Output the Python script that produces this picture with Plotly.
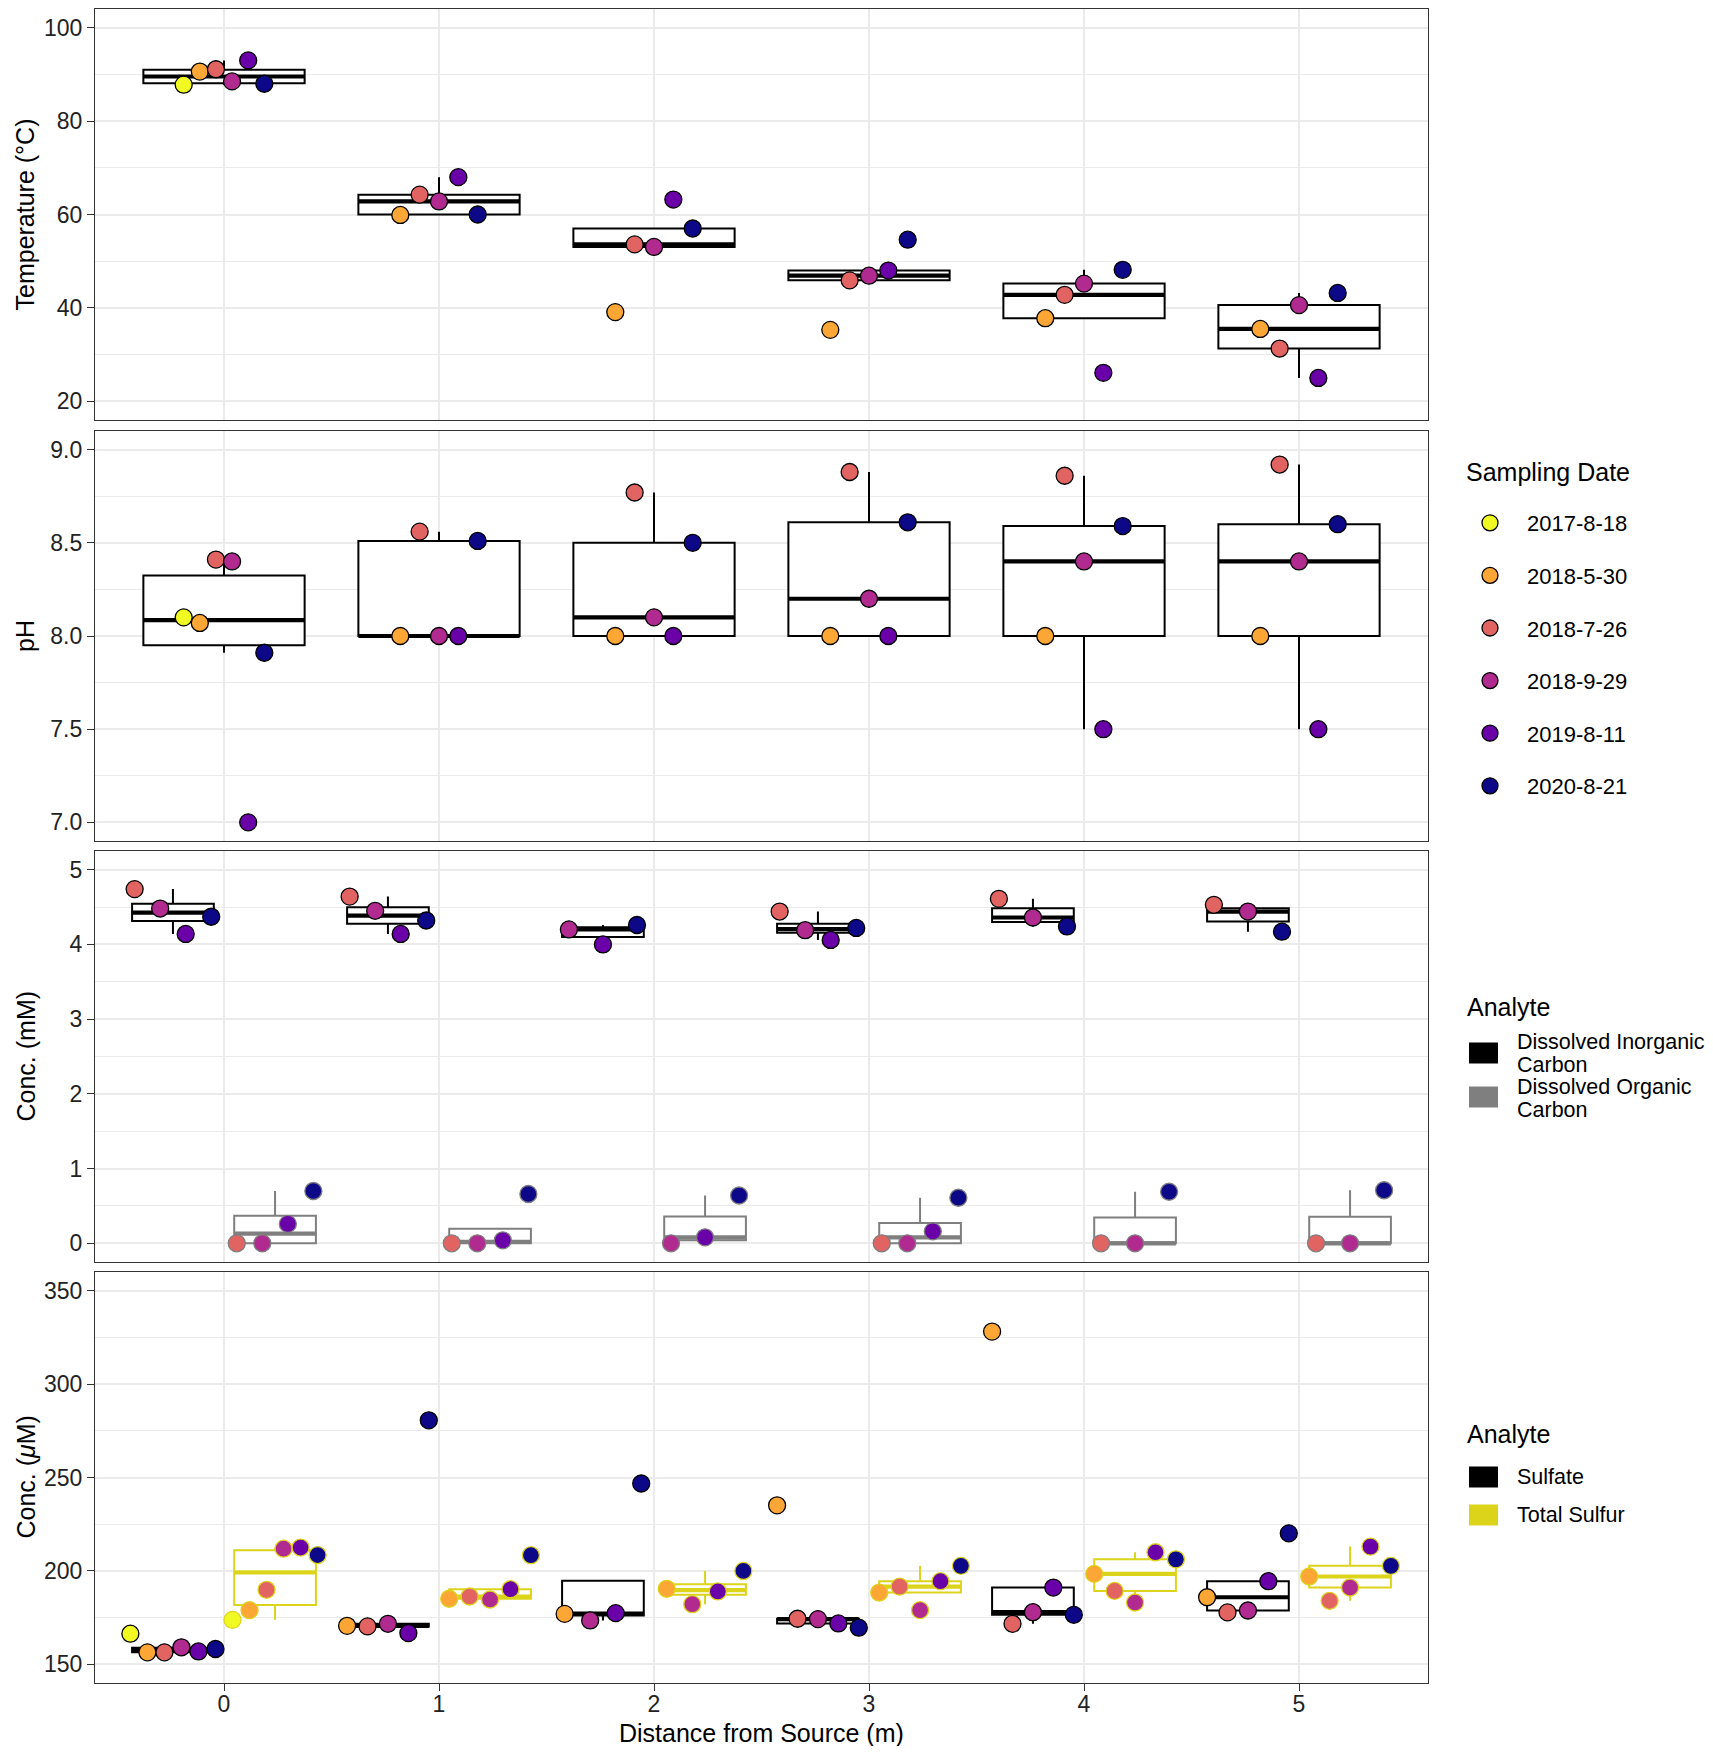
import numpy as np
import plotly.graph_objects as go
from plotly.subplots import make_subplots

DISTANCES = [0, 1, 2, 3, 4, 5]
DATES = ["2017-8-18", "2018-5-30", "2018-7-26", "2018-9-29", "2019-8-11", "2020-8-21"]
DATE_COLORS = ["#F0F921", "#FCA636", "#E16462", "#B12A90", "#6A00A8", "#0D0887"]

# one row per sampling date (order of DATES), one column per distance; None = not sampled
TEMP = [
    [87.8, None, None, None, None, None],
    [90.6, 59.9, 39.1, 35.3, 37.8, 35.5],
    [91.1, 64.25, 53.6, 45.9, 42.8, 31.3],
    [88.5, 62.8, 53.06, 46.9, 45.2, 40.6],
    [93.0, 68.0, 63.2, 48.0, 26.1, 25.0],
    [88.0, 60.0, 57.0, 54.6, 48.15, 43.2],
]
PH = [
    [8.10, None, None, None, None, None],
    [8.07, 8.00, 8.00, 8.00, 8.00, 8.00],
    [8.41, 8.56, 8.77, 8.88, 8.86, 8.92],
    [8.40, 8.00, 8.10, 8.20, 8.40, 8.40],
    [7.00, 8.00, 8.00, 8.00, 7.50, 7.50],
    [7.91, 8.51, 8.50, 8.61, 8.59, 8.60],
]
DIC = [
    [None, None, None, None, None, None],
    [None, None, None, None, None, None],
    [4.74, 4.64, None, 4.44, 4.61, 4.53],
    [4.48, 4.45, 4.20, 4.19, 4.36, 4.44],
    [4.14, 4.14, 4.00, 4.06, None, None],
    [4.37, 4.32, 4.26, 4.22, 4.24, 4.17],
]
DOC = [
    [None, None, None, None, None, None],
    [None, None, None, None, None, None],
    [0.0, 0.0, None, 0.0, 0.0, 0.0],
    [0.0, 0.0, 0.0, 0.0, 0.0, 0.0],
    [0.26, 0.04, 0.08, 0.16, None, None],
    [0.70, 0.66, 0.64, 0.61, 0.69, 0.71],
]
SULFATE = [
    [166.4, None, None, None, None, None],
    [156.4, 170.6, 177.0, 235.1, 328.1, 185.9],
    [156.4, 170.3, None, 174.4, 171.7, 177.8],
    [159.1, 171.7, 173.5, 174.2, 177.9, 178.8],
    [156.9, 166.7, 177.4, 171.9, 191.1, 194.5],
    [158.2, 280.6, 246.8, 169.6, 176.5, 220.1],
]
TOTAL_S = [
    [173.8, None, None, None, None, None],
    [179.0, 185.1, 190.4, 188.4, 198.4, 197.0],
    [189.9, 186.3, None, 191.6, 189.3, 184.0],
    [211.9, 184.7, 182.2, 179.0, 183.1, 191.1],
    [212.5, 190.2, 189.0, 194.5, 210.0, 213.0],
    [208.5, 208.4, 200.0, 202.7, 206.2, 202.7],
]

# the page body adds an 8px margin, so the figure is a bit smaller than the window
OFF = 8
W, H = 1713 - 2 * OFF, 1754 - 2 * OFF
FONT = "Liberation Sans, Arial, sans-serif"
GRID = "#EBEBEB"
BORDER = "#333333"
GREY = "#7F7F7F"
SULFUR = "#DCD41A"
PANELS = [(9, 420), (431, 841), (851, 1262), (1272, 1683)]  # top/bottom, screen px
LEFT, RIGHT = 95, 1428


def px_x(x):
    return (x - OFF) / W


def px_y(y):
    return 1 - (y - OFF) / H


def box_stats(vals):
    v = np.array([x for x in vals if x is not None])
    q1, med, q3 = np.percentile(v, [25, 50, 75])
    iqr = q3 - q1
    lo = v[v >= q1 - 1.5 * iqr].min()
    hi = v[v <= q3 + 1.5 * iqr].max()
    return q1, med, q3, lo, hi


fig = make_subplots(rows=4, cols=1, shared_xaxes=True, vertical_spacing=0.01)


def add_box(row, centers, rows, width, color):
    stats = [box_stats([r[j] for r in rows]) for j in range(len(DISTANCES))]
    fig.add_trace(go.Box(
        x=centers, q1=[s[0] for s in stats], median=[s[1] for s in stats],
        q3=[s[2] for s in stats], lowerfence=[s[3] for s in stats],
        upperfence=[s[4] for s in stats], orientation="v", width=width,
        fillcolor="white", line=dict(color=color, width=2), whiskerwidth=0,
        boxpoints=False, showlegend=False, hoverinfo="skip"), row=row, col=1)
    # ggplot draws the median twice as thick as the box
    mx, my = [], []
    for c, s in zip(centers, stats):
        mx += [c - width / 2, c + width / 2, None]
        my += [s[1], s[1], None]
    fig.add_trace(go.Scatter(x=mx, y=my, mode="lines", line=dict(color=color, width=4.2),
                             showlegend=False, hoverinfo="skip"), row=row, col=1)


def add_points(row, series, dodge_width, first):
    # series: list of (rows, outline colour); dodge over every present group at a distance
    for a, (rows, outline) in enumerate(series):
        for k, date in enumerate(DATES):
            xs, ys = [], []
            for j, d in enumerate(DISTANCES):
                if rows[k][j] is None:
                    continue
                present = [(aa, i) for aa in range(len(series)) for i in range(len(DATES))
                           if series[aa][0][i][j] is not None]
                n = len(present)
                idx = present.index((a, k))
                xs.append(d + (idx - (n - 1) / 2) * dodge_width / n)
                ys.append(rows[k][j])
            if not xs:
                continue
            fig.add_trace(go.Scatter(
                x=xs, y=ys, mode="markers", name=date, legendgroup=date,
                showlegend=first and a == 0,
                marker=dict(size=17, color=DATE_COLORS[k],
                            line=dict(color=outline, width=1.3))), row=row, col=1)


# panel 1 and 2: one box per distance
add_box(1, DISTANCES, TEMP, 0.75, "black")
add_points(1, [(TEMP, "black")], 0.45, True)
add_box(2, DISTANCES, PH, 0.75, "black")
add_points(2, [(PH, "black")], 0.45, False)

# panel 3 and 4: two analytes dodged side by side
half = 0.95 / 4
add_box(3, [d - half for d in DISTANCES], DIC, 0.38, "black")
add_box(3, [d + half for d in DISTANCES], DOC, 0.38, GREY)
add_points(3, [(DIC, "black"), (DOC, GREY)], 0.95, False)
add_box(4, [d - half for d in DISTANCES], SULFATE, 0.38, "black")
add_box(4, [d + half for d in DISTANCES], TOTAL_S, 0.38, SULFUR)
add_points(4, [(SULFATE, "black"), (TOTAL_S, SULFUR)], 0.95, False)

y_specs = [
    dict(range=[16, 104], dtick=20, minor=10, fmt=""),
    dict(range=[6.9, 9.1], dtick=0.5, minor=0.25, fmt=".1f"),
    dict(range=[-0.25, 5.25], dtick=1, minor=0.5, fmt=""),
    dict(range=[140, 360], dtick=50, minor=25, fmt=""),
]
for i, ((top, bot), spec) in enumerate(zip(PANELS, y_specs)):
    sfx = "" if i == 0 else str(i + 1)
    last = i == 3
    fig.update_layout({
        "xaxis" + sfx: dict(
            domain=[px_x(LEFT), px_x(RIGHT)], range=[-0.6, 5.6], tickvals=DISTANCES,
            showgrid=True, gridcolor=GRID, gridwidth=2, zeroline=False,
            showline=True, mirror=True, linecolor=BORDER, linewidth=1.3,
            ticks="outside" if last else "", ticklen=7, tickwidth=1.3, tickcolor=BORDER,
            showticklabels=last, ticklabelstandoff=-7,
            tickfont=dict(size=23, color="#222")),
        "yaxis" + sfx: dict(
            domain=[px_y(bot), px_y(top)], range=spec["range"], tick0=0, dtick=spec["dtick"],
            tickformat=spec["fmt"], showgrid=True, gridcolor=GRID, gridwidth=2,
            zeroline=False, showline=True, mirror=True, linecolor=BORDER, linewidth=1.3,
            ticks="outside", ticklen=7, tickwidth=1.3, tickcolor=BORDER,
            tickfont=dict(size=23, color="#222"),
            minor=dict(tick0=0, dtick=spec["minor"], showgrid=True, gridcolor=GRID,
                       gridwidth=1.2, ticks="")),
    })

annotations = []
for (top, bot), title in zip(PANELS, ["Temperature (°C)", "pH", "Conc. (mM)",
                                      "Conc. (<i>μ</i>M)"]):
    annotations.append(dict(text=title, x=px_x(25), y=px_y((top + bot) / 2), xref="paper",
                            yref="paper", xanchor="center", yanchor="middle",
                            textangle=-90, showarrow=False,
                            font=dict(size=25, color="black")))
annotations.append(dict(text="Distance from Source (m)", x=px_x((LEFT + RIGHT) / 2),
                        y=px_y(1733), xref="paper", yref="paper", xanchor="center",
                        yanchor="middle", showarrow=False, font=dict(size=25, color="black")))

# legend titles and analyte keys
annotations.append(dict(text="Sampling Date", x=px_x(1464), y=px_y(472), xref="paper",
                        yref="paper", xanchor="left", yanchor="middle", showarrow=False,
                        font=dict(size=25, color="black")))
shapes = []
analyte_keys = [
    (1007, [(1053, "black", ["Dissolved Inorganic", "Carbon"], [1042, 1065]),
            (1097, GREY, ["Dissolved Organic", "Carbon"], [1087, 1110])]),
    (1434, [(1477, "black", ["Sulfate"], [1477]),
            (1515, SULFUR, ["Total Sulfur"], [1515])]),
]
for title_y, keys in analyte_keys:
    annotations.append(dict(text="Analyte", x=px_x(1465), y=px_y(title_y), xref="paper",
                            yref="paper", xanchor="left", yanchor="middle", showarrow=False,
                            font=dict(size=25, color="black")))
    for cy, color, lines, ys in keys:
        shapes.append(dict(type="rect", xref="paper", yref="paper",
                           x0=px_x(1469), x1=px_x(1498), y0=px_y(cy + 10.5),
                           y1=px_y(cy - 10.5), fillcolor=color, line=dict(width=0)))
        for text, ty in zip(lines, ys):
            annotations.append(dict(text=text, x=px_x(1515), y=px_y(ty), xref="paper",
                                    yref="paper", xanchor="left", yanchor="middle",
                                    showarrow=False, font=dict(size=21.5, color="black")))

fig.update_layout(
    width=W, height=H, margin=dict(l=0, r=0, t=0, b=0),
    paper_bgcolor="white", plot_bgcolor="white",
    font=dict(family=FONT, color="black"),
    boxmode="overlay",
    annotations=annotations, shapes=shapes,
    legend=dict(font=dict(size=22), x=px_x(1453), xanchor="left",
                y=px_y(502), yanchor="top", tracegroupgap=21, itemwidth=64,
                bgcolor="rgba(0,0,0,0)"),
)

fig.write_html("out.html")
